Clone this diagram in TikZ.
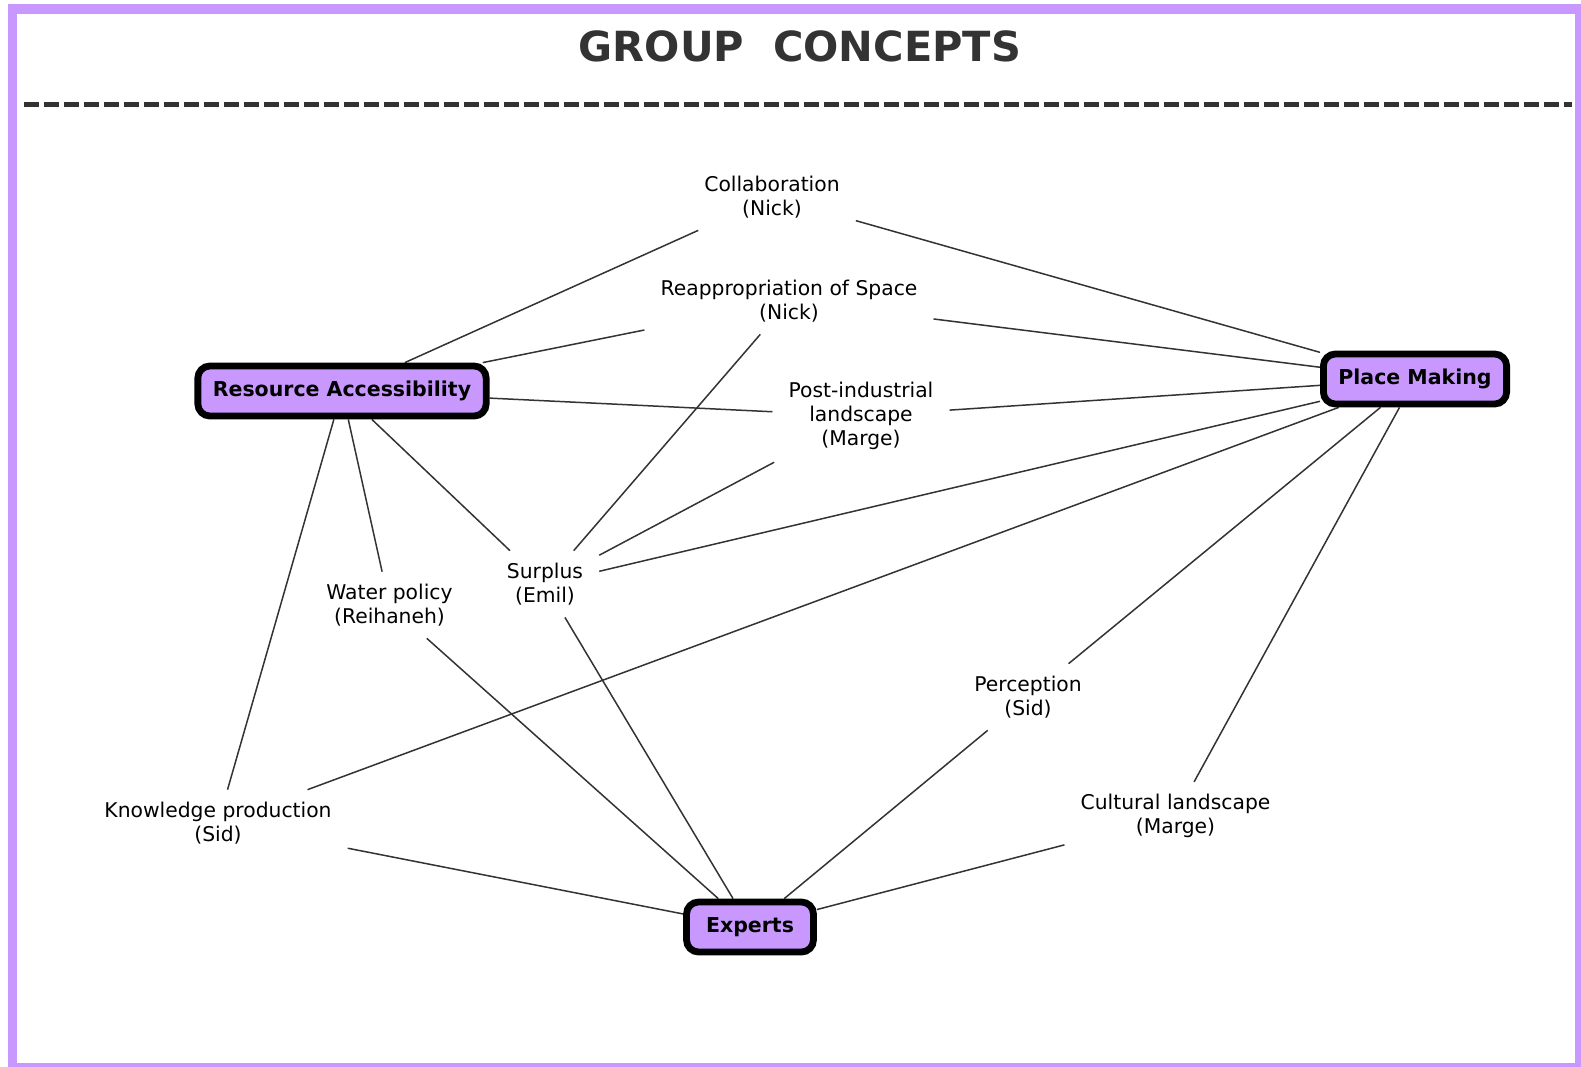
\documentclass[tikz,border=0pt]{standalone}
\usepackage{fontspec}
\setmainfont{DejaVu Sans}
\usetikzlibrary{backgrounds}
\definecolor{lav}{RGB}{200,152,255}
\definecolor{ink}{RGB}{51,51,51}
\begin{document}
\begin{tikzpicture}[x=1pt,y=-1pt,
  concept/.style={align=center, font=\fontsize{20.3}{24.2}\selectfont, inner xsep=16pt, inner ysep=12pt},
  hub/.style={draw=black, line width=6.8pt, fill=lav, rounded corners=12pt,
    font=\bfseries\fontsize{20.5}{24}\selectfont, inner xsep=15pt, minimum height=50pt},
  link/.style={draw=ink, line width=1.5pt},
  frame/.style={draw=lav, line width=9.5pt},
  rule/.style={draw=ink, line width=5pt, dash pattern=on 15pt off 5pt}]
\useasboundingbox (0,0) rectangle (1581,1066);
\draw[frame] (12.5,9) rectangle (1580,1068);
\node[font=\bfseries\fontsize{41.5}{48}\selectfont, text=ink] (title) at (800,46) {GROUP\ \ CONCEPTS};
\coordinate (rl) at (24,104);
\coordinate (rr) at (1572,104);
\draw[rule] (rl) -- (rr);

\node[concept] (collab) at (772,197) {Collaboration\\(Nick)};
\node[concept] (reapp) at (789,301) {Reappropriation of Space\\(Nick)};
\node[concept] (post) at (861,416) {Post-industrial\\landscape\\(Marge)};
\node[concept] (surplus) at (545,584) {Surplus\\(Emil)};
\node[concept] (water) at (389.5,605) {Water policy\\(Reihaneh)};
\node[concept] (percep) at (1028,697) {Perception\\(Sid)};
\node[concept] (cult) at (1175.5,816) {Cultural landscape\\(Marge)};
\node[concept] (know) at (218,823) {Knowledge production\\(Sid)};

\node[hub] (ra) at (342,391) {Resource Accessibility};
\node[hub] (pm) at (1415,379) {Place Making};
\node[hub, inner xsep=19.5pt] (exp) at (750,927) {Experts};

\begin{pgfonlayer}{background}
\draw[link] (ra) -- (collab);
\draw[link] (collab) -- (pm);
\draw[link] (ra) -- (reapp);
\draw[link] (reapp) -- (pm);
\draw[link] (ra) -- (post);
\draw[link] (post) -- (pm);
\draw[link] (reapp) -- (surplus);
\draw[link] (post) -- (surplus);
\draw[link] (surplus) -- (pm);
\draw[link] (ra) -- (surplus);
\draw[link] (ra) -- (water);
\draw[link] (ra) -- (know);
\draw[link] (pm) -- (know);
\draw[link] (pm) -- (percep);
\draw[link] (pm) -- (cult);
\draw[link] (surplus) -- (exp);
\draw[link] (water) -- (exp);
\draw[link] (know) -- (exp);
\draw[link] (percep) -- (exp);
\draw[link] (cult) -- (exp);
\end{pgfonlayer}
\end{tikzpicture}
\end{document}
